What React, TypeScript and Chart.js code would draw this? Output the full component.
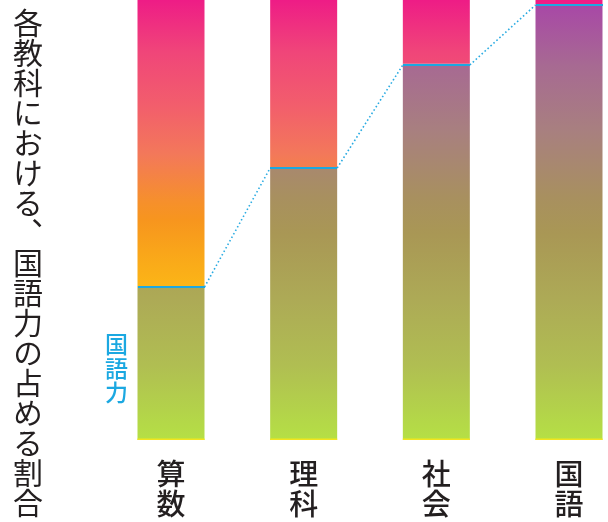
import React, { useEffect, useRef } from 'react';
import { Chart, registerables } from 'chart.js';

Chart.register(...registerables);

const chartTitle = '各教科における、国語力の占める割合';
const seriesLabel = '国語力';
const categories = ['算数', '理科', '社会', '国語'];
const kokugoShare = [35, 62, 85.5, 99];
const otherShare = [65, 38, 14.5, 1];

const upperStops: [number, string][] = [
  [0, '#EE1C86'],
  [0.12, '#F04679'],
  [0.24, '#F25E6C'],
  [0.35, '#F3785A'],
  [0.46, '#F6902B'],
  [0.5, '#F7951E'],
  [0.57, '#F9A51A'],
  [0.65, '#FBB517'],
  [1, '#FFD000'],
];
const lowerStops: [number, string][] = [
  [0, '#A845A8'],
  [0.15, '#A76A92'],
  [0.3, '#A8807F'],
  [0.45, '#A8905F'],
  [0.53, '#A99755'],
  [0.68, '#ADAA56'],
  [0.83, '#B0BE52'],
  [1, '#B5E045'],
];

const BLUE = '#1BA8E1';
const FONT = '"Noto Sans CJK JP", "Noto Sans CJK SC", sans-serif';

function makeGradient(chart: any, stops: [number, string][]) {
  const area = chart.chartArea;
  if (!area) return stops[0][1];
  const g = chart.ctx.createLinearGradient(0, area.top, 0, area.bottom);
  stops.forEach(([o, c]) => g.addColorStop(o, c));
  return g;
}

const decorPlugin = {
  id: 'decor',
  afterDatasetsDraw(chart: any) {
    const meta = chart.getDatasetMeta(0);
    const bars = meta.data;
    const ctx = chart.ctx;
    ctx.save();
    // yellow bottom edge
    ctx.fillStyle = '#F2E51E';
    bars.forEach((b: any) => {
      ctx.fillRect(b.x - b.width / 2, b.base - 1.5, b.width, 1.5);
    });
    // blue top edge of the 国語力 segment
    ctx.fillStyle = BLUE;
    bars.forEach((b: any) => {
      ctx.fillRect(Math.round(b.x - b.width / 2), Math.round(b.y), Math.round(b.width), 2);
    });
    // dotted connector
    ctx.strokeStyle = '#29ABE2';
    ctx.lineWidth = 1.6;
    ctx.setLineDash([1.6, 2.4]);
    for (let i = 0; i < bars.length - 1; i++) {
      const a = bars[i];
      const b = bars[i + 1];
      ctx.beginPath();
      ctx.moveTo(a.x + a.width / 2, Math.round(a.y) + 1);
      ctx.lineTo(b.x - b.width / 2, Math.round(b.y) + 1);
      ctx.stroke();
    }
    ctx.setLineDash([]);
    // series label
    const first = bars[0];
    if (first) {
      ctx.fillStyle = BLUE;
      ctx.font = `500 23px ${FONT}`;
      ctx.textAlign = 'center';
      ctx.textBaseline = 'middle';
      const cx = first.x - first.width / 2 - 21;
      const mid = (first.y + first.base) / 2 + 5.5;
      seriesLabel.split('').forEach((ch, k) => {
        ctx.fillText(ch, cx, mid + (k - 1) * 24);
      });
    }
    ctx.restore();
  },
};

export default function App() {
  const ref = useRef<HTMLCanvasElement>(null);

  useEffect(() => {
    if (!ref.current) return;
    const chart = new Chart(ref.current, {
      type: 'bar',
      data: {
        labels: categories.map((c) => c.split('')),
        datasets: [
          {
            label: seriesLabel,
            data: kokugoShare,
            backgroundColor: (c: any) => makeGradient(c.chart, lowerStops),
            borderWidth: 0,
            barThickness: 67,
            clip: false,
            inflateAmount: 0,
          },
          {
            label: 'その他',
            data: otherShare,
            backgroundColor: (c: any) => makeGradient(c.chart, upperStops),
            borderWidth: 0,
            barThickness: 67,
            clip: false,
            inflateAmount: 0,
          },
        ],
      },
      options: {
        responsive: false,
        animation: false,
        layout: { padding: { left: 171, right: 39, top: 0, bottom: 0 } },
        plugins: {
          legend: { display: false },
          tooltip: { enabled: false },
          title: { display: false },
        },
        scales: {
          x: {
            stacked: true,
            offset: false,
            grid: { display: false, drawTicks: false },
            border: { display: false },
            ticks: {
              autoSkip: false,
              maxRotation: 0,
              minRotation: 0,
              padding: 19,
              color: '#231F20',
              font: { family: FONT, size: 29, weight: 500, lineHeight: '30px' },
            },
            afterFit: (scale: any) => {
              scale.height = 82;
            },
          },
          y: {
            stacked: true,
            display: false,
            min: 0,
            max: 100,
          },
        },
      },
      plugins: [decorPlugin],
    } as any);
    return () => chart.destroy();
  }, []);

  return (
    <div style={{ position: 'absolute', left: 0, top: 0, width: 608, height: 522, background: '#fff', overflow: 'hidden' }}>
      <canvas ref={ref} width={608} height={522} style={{ position: 'absolute', left: 0, top: 0, width: 608, height: 522 }} />
      <div
        style={{
          position: 'absolute',
          left: 13,
          top: 8,
          writingMode: 'vertical-rl',
          fontFamily: FONT,
          fontSize: 30,
          lineHeight: '30px',
          color: '#231F20',
          whiteSpace: 'nowrap',
        }}
      >
        {chartTitle}
      </div>
    </div>
  );
}
